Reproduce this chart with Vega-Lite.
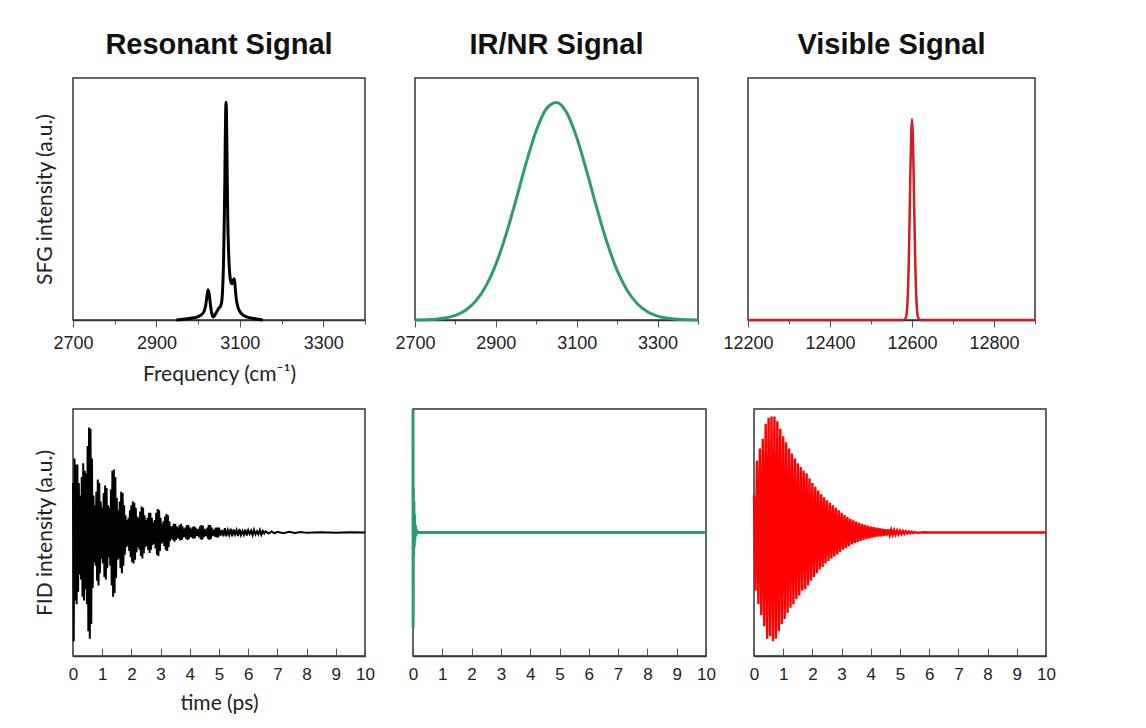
{
  "$schema": "https://vega.github.io/schema/vega-lite/v6.json",
  "background": "white",
  "padding": {"left": 33, "top": 30, "right": 5, "bottom": 5},
  "config": {
    "view": {"stroke": "#333", "strokeWidth": 1.5},
    "axis": {"labelFont": "Liberation Sans", "labelFontSize": 18, "labelColor": "#222", "titleFont": "Lato", "titleFontSize": 21, "titleFontWeight": "normal", "titleColor": "#222", "grid": false, "domainColor": "#333", "domainWidth": 1.5, "tickColor": "#555", "labelFlush": false, "labelOverlap": false},
    "title": {"font": "Liberation Sans", "fontSize": 29, "fontWeight": "bold", "color": "#111", "anchor": "middle", "offset": 18}
  },
  "datasets": {
    "res": [
      {"f":2948,"v":0},{"f":2960,"v":0.002},{"f":2975,"v":0.005},{"f":2990,"v":0.009},{"f":3000,"v":0.014},{"f":3008,"v":0.022},{"f":3014,"v":0.035},{"f":3018,"v":0.06},{"f":3021,"v":0.095},{"f":3024,"v":0.125},{"f":3027,"v":0.1},{"f":3030,"v":0.055},{"f":3033,"v":0.025},{"f":3036,"v":0.012},{"f":3040,"v":0.02},{"f":3045,"v":0.035},{"f":3050,"v":0.05},{"f":3053,"v":0.055},{"f":3056,"v":0.07},{"f":3059,"v":0.14},{"f":3061,"v":0.25},{"f":3062,"v":0.35},{"f":3063,"v":0.45},{"f":3064,"v":0.58},{"f":3065,"v":0.74},{"f":3066,"v":0.86},{"f":3067,"v":0.9},{"f":3068,"v":0.84},{"f":3069,"v":0.7},{"f":3070,"v":0.55},{"f":3071,"v":0.42},{"f":3073,"v":0.28},{"f":3075,"v":0.21},{"f":3078,"v":0.16},{"f":3081,"v":0.15},{"f":3084,"v":0.165},{"f":3087,"v":0.17},{"f":3089,"v":0.13},{"f":3092,"v":0.08},{"f":3096,"v":0.05},{"f":3100,"v":0.035},{"f":3108,"v":0.02},{"f":3118,"v":0.012},{"f":3130,"v":0.007},{"f":3142,"v":0.003},{"f":3155,"v":0}
    ],
    "nr": [
      {"f":2700,"v":0.0004},{"f":2725,"v":0.0013},{"f":2750,"v":0.0034},{"f":2775,"v":0.0084},{"f":2800,"v":0.019},{"f":2825,"v":0.04},{"f":2850,"v":0.078},{"f":2875,"v":0.139},{"f":2900,"v":0.23},{"f":2925,"v":0.352},{"f":2950,"v":0.497},{"f":2975,"v":0.649},{"f":3000,"v":0.783},{"f":3025,"v":0.873},{"f":3050,"v":0.899},{"f":3075,"v":0.857},{"f":3100,"v":0.754},{"f":3125,"v":0.613},{"f":3150,"v":0.461},{"f":3175,"v":0.32},{"f":3200,"v":0.205},{"f":3225,"v":0.122},{"f":3250,"v":0.067},{"f":3275,"v":0.034},{"f":3300,"v":0.016},{"f":3325,"v":0.0069},{"f":3350,"v":0.0027},{"f":3375,"v":0.001},{"f":3400,"v":0.0003}
    ],
    "vis": [
      {"f":12200,"v":0},{"f":12400,"v":0},{"f":12580,"v":0},{"f":12585,"v":0.009},{"f":12588,"v":0.047},{"f":12590,"v":0.112},{"f":12592,"v":0.231},{"f":12594,"v":0.404},{"f":12596,"v":0.603},{"f":12598,"v":0.766},{"f":12600,"v":0.83},{"f":12602,"v":0.766},{"f":12604,"v":0.603},{"f":12606,"v":0.404},{"f":12608,"v":0.231},{"f":12610,"v":0.112},{"f":12612,"v":0.047},{"f":12615,"v":0.009},{"f":12620,"v":0},{"f":12700,"v":0},{"f":12900,"v":0}
    ],
    "fres": [
      {"t":0,"v":0.4},{"t":0.025,"v":-0.88},{"t":0.05,"v":0.6},{"t":0.075,"v":-0.55},{"t":0.1,"v":0.55},{"t":0.125,"v":-0.58},{"t":0.15,"v":0.55},{"t":0.175,"v":-0.48},{"t":0.2,"v":0.4},{"t":0.225,"v":-0.34},
      {"t":0.25,"v":0.3},{"t":0.275,"v":-0.38},{"t":0.3,"v":0.45},{"t":0.325,"v":-0.52},{"t":0.35,"v":0.56},{"t":0.375,"v":-0.55},{"t":0.4,"v":0.5},{"t":0.425,"v":-0.46},{"t":0.45,"v":0.48},{"t":0.475,"v":-0.58},
      {"t":0.5,"v":0.7},{"t":0.525,"v":-0.8},{"t":0.55,"v":0.85},{"t":0.575,"v":-0.86},{"t":0.6,"v":0.84},{"t":0.625,"v":-0.74},{"t":0.65,"v":0.6},{"t":0.675,"v":-0.45},{"t":0.7,"v":0.3},{"t":0.725,"v":-0.24},
      {"t":0.75,"v":0.22},{"t":0.775,"v":-0.27},{"t":0.8,"v":0.33},{"t":0.825,"v":-0.39},{"t":0.85,"v":0.43},{"t":0.875,"v":-0.43},{"t":0.9,"v":0.4},{"t":0.925,"v":-0.33},{"t":0.95,"v":0.25},{"t":0.975,"v":-0.21},
      {"t":1,"v":0.2},{"t":1.025,"v":-0.25},{"t":1.05,"v":0.32},{"t":1.075,"v":-0.36},{"t":1.1,"v":0.38},{"t":1.125,"v":-0.38},{"t":1.15,"v":0.36},{"t":1.175,"v":-0.29},{"t":1.2,"v":0.22},{"t":1.225,"v":-0.2},
      {"t":1.25,"v":0.2},{"t":1.275,"v":-0.27},{"t":1.3,"v":0.35},{"t":1.325,"v":-0.43},{"t":1.35,"v":0.5},{"t":1.375,"v":-0.52},{"t":1.4,"v":0.51},{"t":1.425,"v":-0.49},{"t":1.45,"v":0.45},{"t":1.475,"v":-0.37},
      {"t":1.5,"v":0.28},{"t":1.525,"v":-0.22},{"t":1.55,"v":0.18},{"t":1.575,"v":-0.21},{"t":1.6,"v":0.25},{"t":1.625,"v":-0.29},{"t":1.65,"v":0.33},{"t":1.675,"v":-0.33},{"t":1.7,"v":0.32},{"t":1.725,"v":-0.27},
      {"t":1.75,"v":0.22},{"t":1.775,"v":-0.18},{"t":1.8,"v":0.14},{"t":1.825,"v":-0.12},{"t":1.85,"v":0.1},{"t":1.875,"v":-0.11},{"t":1.9,"v":0.12},{"t":1.925,"v":-0.15},{"t":1.95,"v":0.18},{"t":1.975,"v":-0.2},
      {"t":2,"v":0.22},{"t":2.025,"v":-0.24},{"t":2.05,"v":0.25},{"t":2.075,"v":-0.25},{"t":2.1,"v":0.24},{"t":2.125,"v":-0.22},{"t":2.15,"v":0.2},{"t":2.175,"v":-0.16},{"t":2.2,"v":0.13},{"t":2.225,"v":-0.12},
      {"t":2.25,"v":0.12},{"t":2.275,"v":-0.14},{"t":2.3,"v":0.17},{"t":2.325,"v":-0.19},{"t":2.35,"v":0.21},{"t":2.375,"v":-0.21},{"t":2.4,"v":0.2},{"t":2.425,"v":-0.17},{"t":2.45,"v":0.14},{"t":2.475,"v":-0.12},
      {"t":2.5,"v":0.1},{"t":2.525,"v":-0.11},{"t":2.55,"v":0.12},{"t":2.575,"v":-0.14},{"t":2.6,"v":0.16},{"t":2.625,"v":-0.165},{"t":2.65,"v":0.16},{"t":2.675,"v":-0.14},{"t":2.7,"v":0.12},{"t":2.725,"v":-0.1},
      {"t":2.75,"v":0.08},{"t":2.775,"v":-0.09},{"t":2.8,"v":0.1},{"t":2.825,"v":-0.13},{"t":2.85,"v":0.16},{"t":2.875,"v":-0.18},{"t":2.9,"v":0.19},{"t":2.925,"v":-0.19},{"t":2.95,"v":0.18},{"t":2.975,"v":-0.15},
      {"t":3,"v":0.12},{"t":3.025,"v":-0.09},{"t":3.05,"v":0.07},{"t":3.075,"v":-0.08},{"t":3.1,"v":0.09},{"t":3.125,"v":-0.11},{"t":3.15,"v":0.13},{"t":3.175,"v":-0.14},{"t":3.2,"v":0.15},{"t":3.225,"v":-0.15},
      {"t":3.25,"v":0.14},{"t":3.275,"v":-0.12},{"t":3.3,"v":0.09},{"t":3.325,"v":-0.07},{"t":3.35,"v":0.05},{"t":3.375,"v":-0.05},{"t":3.4,"v":0.05},{"t":3.425,"v":-0.06},{"t":3.45,"v":0.07},{"t":3.475,"v":-0.075},
      {"t":3.5,"v":0.07},{"t":3.525,"v":-0.06},{"t":3.55,"v":0.05},{"t":3.575,"v":-0.045},{"t":3.6,"v":0.04},{"t":3.625,"v":-0.05},{"t":3.65,"v":0.06},{"t":3.675,"v":-0.065},{"t":3.7,"v":0.07},{"t":3.725,"v":-0.06},
      {"t":3.75,"v":0.05},{"t":3.775,"v":-0.04},{"t":3.8,"v":0.03},{"t":3.825,"v":-0.035},{"t":3.85,"v":0.04},{"t":3.875,"v":-0.05},{"t":3.9,"v":0.06},{"t":3.925,"v":-0.06},{"t":3.95,"v":0.06},{"t":3.975,"v":-0.05},
      {"t":4,"v":0.04},{"t":4.025,"v":-0.035},{"t":4.05,"v":0.03},{"t":4.075,"v":-0.04},{"t":4.1,"v":0.045},{"t":4.125,"v":-0.05},{"t":4.15,"v":0.05},{"t":4.175,"v":-0.045},{"t":4.2,"v":0.04},{"t":4.225,"v":-0.03},
      {"t":4.25,"v":0.025},{"t":4.275,"v":-0.028},{"t":4.3,"v":0.03},{"t":4.325,"v":-0.04},{"t":4.35,"v":0.05},{"t":4.375,"v":-0.055},{"t":4.4,"v":0.06},{"t":4.425,"v":-0.058},{"t":4.45,"v":0.055},{"t":4.475,"v":-0.04},
      {"t":4.5,"v":0.03},{"t":4.525,"v":-0.027},{"t":4.55,"v":0.025},{"t":4.575,"v":-0.032},{"t":4.6,"v":0.04},{"t":4.625,"v":-0.05},{"t":4.65,"v":0.06},{"t":4.675,"v":-0.06},{"t":4.7,"v":0.06},{"t":4.725,"v":-0.05},
      {"t":4.75,"v":0.04},{"t":4.775,"v":-0.03},{"t":4.8,"v":0.02},{"t":4.825,"v":-0.025},{"t":4.85,"v":0.03},{"t":4.875,"v":-0.035},{"t":4.9,"v":0.04},{"t":4.925,"v":-0.04},{"t":4.95,"v":0.04},{"t":4.975,"v":-0.04},
      {"t":5,"v":0.04},{"t":5.05,"v":-0.025},{"t":5.1,"v":0.02},{"t":5.15,"v":-0.03},{"t":5.2,"v":0.035},{"t":5.25,"v":-0.03},{"t":5.3,"v":0.02},{"t":5.35,"v":-0.02},{"t":5.4,"v":0.03},{"t":5.45,"v":-0.03},{"t":5.5,"v":0.025},{"t":5.55,"v":-0.015},{"t":5.6,"v":0.02},{"t":5.65,"v":-0.028},{"t":5.7,"v":0.028},{"t":5.75,"v":-0.02},{"t":5.8,"v":0.013},{"t":5.85,"v":-0.018},{"t":5.9,"v":0.025},{"t":5.95,"v":-0.025},
      {"t":6,"v":0.018},{"t":6.05,"v":-0.012},{"t":6.1,"v":0.015},{"t":6.15,"v":-0.022},{"t":6.2,"v":0.022},{"t":6.25,"v":-0.015},{"t":6.3,"v":0.01},{"t":6.35,"v":-0.015},{"t":6.4,"v":0.02},{"t":6.45,"v":-0.018},{"t":6.5,"v":0.012},{"t":6.55,"v":-0.008},{"t":6.6,"v":0.01},{"t":6.7,"v":-0.008},{"t":6.8,"v":0.008},{"t":6.9,"v":-0.006},{"t":7,"v":0.006},{"t":7.2,"v":-0.005},{"t":7.4,"v":0.005},{"t":7.6,"v":-0.004},{"t":7.8,"v":0.004},{"t":8,"v":-0.003},{"t":8.5,"v":0.003},{"t":9,"v":-0.002},{"t":9.5,"v":0.002},{"t":10,"v":0}
    ],
    "fnr": [
      {"t":0,"v":0.99},{"t":0.005,"v":-0.77},{"t":0.012,"v":0.36},{"t":0.02,"v":-0.2},{"t":0.03,"v":0.25},{"t":0.04,"v":-0.12},{"t":0.05,"v":0.15},{"t":0.06,"v":-0.08},{"t":0.08,"v":0.06},{"t":0.1,"v":-0.03},{"t":0.12,"v":0.02},{"t":0.15,"v":0},{"t":10,"v":0}
    ],
    "fvis": [
      {"t":0,"v":0.3},{"t":0.05,"v":-0.47},{"t":0.1,"v":0.58},{"t":0.15,"v":-0.58},{"t":0.2,"v":0.68},{"t":0.25,"v":-0.67},{"t":0.3,"v":0.76},{"t":0.35,"v":-0.76},{"t":0.4,"v":0.88},{"t":0.45,"v":-0.86},{"t":0.5,"v":0.93},{"t":0.55,"v":-0.84},{"t":0.6,"v":0.94},{"t":0.65,"v":-0.88},{"t":0.7,"v":0.94},{"t":0.75,"v":-0.86},{"t":0.8,"v":0.9},{"t":0.85,"v":-0.8},{"t":0.9,"v":0.84},{"t":0.95,"v":-0.74},
      {"t":1,"v":0.78},{"t":1.05,"v":-0.7},{"t":1.1,"v":0.73},{"t":1.15,"v":-0.65},{"t":1.2,"v":0.68},{"t":1.25,"v":-0.61},{"t":1.3,"v":0.64},{"t":1.35,"v":-0.58},{"t":1.4,"v":0.6},{"t":1.45,"v":-0.54},{"t":1.5,"v":0.56},{"t":1.55,"v":-0.51},{"t":1.6,"v":0.53},{"t":1.65,"v":-0.47},{"t":1.7,"v":0.5},{"t":1.75,"v":-0.46},{"t":1.8,"v":0.48},{"t":1.85,"v":-0.43},{"t":1.9,"v":0.44},{"t":1.95,"v":-0.39},
      {"t":2,"v":0.4},{"t":2.05,"v":-0.36},{"t":2.1,"v":0.37},{"t":2.15,"v":-0.33},{"t":2.2,"v":0.34},{"t":2.25,"v":-0.3},{"t":2.3,"v":0.31},{"t":2.35,"v":-0.28},{"t":2.4,"v":0.285},{"t":2.45,"v":-0.25},{"t":2.5,"v":0.26},{"t":2.55,"v":-0.23},{"t":2.6,"v":0.24},{"t":2.65,"v":-0.21},{"t":2.7,"v":0.22},{"t":2.75,"v":-0.195},{"t":2.8,"v":0.2},{"t":2.85,"v":-0.177},{"t":2.9,"v":0.18},{"t":2.95,"v":-0.158},
      {"t":3,"v":0.16},{"t":3.05,"v":-0.14},{"t":3.1,"v":0.142},{"t":3.15,"v":-0.125},{"t":3.2,"v":0.126},{"t":3.25,"v":-0.11},{"t":3.3,"v":0.111},{"t":3.35,"v":-0.097},{"t":3.4,"v":0.098},{"t":3.45,"v":-0.086},{"t":3.5,"v":0.088},{"t":3.55,"v":-0.077},{"t":3.6,"v":0.078},{"t":3.65,"v":-0.068},{"t":3.7,"v":0.069},{"t":3.75,"v":-0.06},{"t":3.8,"v":0.061},{"t":3.85,"v":-0.053},{"t":3.9,"v":0.054},{"t":3.95,"v":-0.047},
      {"t":4,"v":0.048},{"t":4.05,"v":-0.042},{"t":4.1,"v":0.043},{"t":4.15,"v":-0.037},{"t":4.2,"v":0.038},{"t":4.25,"v":-0.033},{"t":4.3,"v":0.034},{"t":4.35,"v":-0.03},{"t":4.4,"v":0.03},{"t":4.45,"v":-0.027},{"t":4.5,"v":0.027},{"t":4.55,"v":-0.024},{"t":4.6,"v":0.025},{"t":4.65,"v":-0.021},{"t":4.7,"v":0.022},{"t":4.75,"v":-0.019},{"t":4.8,"v":0.019},{"t":4.85,"v":-0.017},{"t":4.9,"v":0.016},{"t":4.95,"v":-0.014},
      {"t":5,"v":0.014},{"t":5.05,"v":-0.012},{"t":5.1,"v":0.012},{"t":5.15,"v":-0.01},{"t":5.2,"v":0.01},{"t":5.25,"v":-0.008},{"t":5.3,"v":0.008},{"t":5.35,"v":-0.006},{"t":5.4,"v":0.006},{"t":5.45,"v":-0.005},{"t":5.5,"v":0.004},{"t":5.6,"v":-0.003},{"t":5.8,"v":0.002},{"t":6,"v":0},{"t":10,"v":0}
    ]
  },
  "spacing": 18,
  "vconcat": [
    {
      "spacing": 50,
      "bounds": "flush",
      "hconcat": [
        {
          "width": 292, "height": 242,
          "title": "Resonant Signal",
          "data": {"name": "res"},
          "mark": {"type": "line", "color": "#000000", "strokeWidth": 3, "interpolate": "monotone"},
          "encoding": {
            "x": {"field": "f", "type": "quantitative", "scale": {"domain": [2700, 3400], "nice": false},
              "axis": {"values": [2700, 2800, 2900, 3000, 3100, 3200, 3300, 3400], "format": "d", "labelExpr": "datum.value % 200 === 100 ? datum.label : ''",
                "tickSize": {"condition": {"test": "datum.value % 200 === 100", "value": 7}, "value": 4},
                "title": "Frequency (cm⁻¹)", "labelPadding": 7, "titlePadding": 11}},
            "y": {"field": "v", "type": "quantitative", "scale": {"domain": [0, 1], "nice": false},
              "axis": {"title": "SFG intensity (a.u.)", "labels": false, "ticks": false, "domain": false, "titlePadding": 18}}
          }
        },
        {
          "width": 283, "height": 242,
          "title": "IR/NR Signal",
          "data": {"name": "nr"},
          "mark": {"type": "line", "color": "#2e9b6f", "strokeWidth": 3, "interpolate": "monotone"},
          "encoding": {
            "x": {"field": "f", "type": "quantitative", "scale": {"domain": [2700, 3400], "nice": false},
              "axis": {"values": [2700, 2800, 2900, 3000, 3100, 3200, 3300, 3400], "format": "d", "labelExpr": "datum.value % 200 === 100 ? datum.label : ''",
                "tickSize": {"condition": {"test": "datum.value % 200 === 100", "value": 7}, "value": 4},
                "title": null, "labelPadding": 7}},
            "y": {"field": "v", "type": "quantitative", "scale": {"domain": [0, 1], "nice": false},
              "axis": {"title": null, "labels": false, "ticks": false, "domain": false}}
          }
        },
        {
          "width": 287, "height": 242,
          "title": "Visible Signal",
          "data": {"name": "vis"},
          "mark": {"type": "line", "color": "#cc1f26", "strokeWidth": 2.5, "interpolate": "monotone"},
          "encoding": {
            "x": {"field": "f", "type": "quantitative", "scale": {"domain": [12200, 12900], "nice": false},
              "axis": {"values": [12200, 12300, 12400, 12500, 12600, 12700, 12800, 12900], "format": "d", "labelExpr": "datum.value % 200 === 0 ? datum.label : ''",
                "tickSize": {"condition": {"test": "datum.value % 200 === 0", "value": 7}, "value": 4},
                "title": null, "labelPadding": 7}},
            "y": {"field": "v", "type": "quantitative", "scale": {"domain": [0, 1], "nice": false},
              "axis": {"title": null, "labels": false, "ticks": false, "domain": false}}
          }
        }
      ]
    },
    {
      "spacing": 48,
      "bounds": "flush",
      "hconcat": [
        {
          "width": 292, "height": 247,
          "data": {"name": "fres"},
          "mark": {"type": "line", "color": "#000000", "strokeWidth": 2},
          "encoding": {
            "x": {"field": "t", "type": "quantitative", "scale": {"domain": [0, 10], "nice": false},
              "axis": {"values": [0, 0.5, 1, 1.5, 2, 2.5, 3, 3.5, 4, 4.5, 5, 5.5, 6, 6.5, 7, 7.5, 8, 8.5, 9, 9.5, 10], "format": "d", "labelExpr": "datum.value % 1 === 0 ? datum.label : ''",
                "tickSize": {"condition": {"test": "datum.value % 1 === 0", "value": -8}, "value": -4},
                "labelFontSize": 17, "title": "time (ps)", "labelPadding": 18, "titlePadding": 10}},
            "y": {"field": "v", "type": "quantitative", "scale": {"domain": [-1, 1], "nice": false},
              "axis": {"title": "FID intensity (a.u.)", "labels": false, "ticks": false, "domain": false, "titlePadding": 18}}
          }
        },
        {
          "width": 293, "height": 247,
          "data": {"name": "fnr"},
          "mark": {"type": "line", "color": "#2e9b6f", "strokeWidth": 3},
          "encoding": {
            "x": {"field": "t", "type": "quantitative", "scale": {"domain": [0, 10], "nice": false},
              "axis": {"values": [0, 0.5, 1, 1.5, 2, 2.5, 3, 3.5, 4, 4.5, 5, 5.5, 6, 6.5, 7, 7.5, 8, 8.5, 9, 9.5, 10], "format": "d", "labelExpr": "datum.value % 1 === 0 ? datum.label : ''",
                "tickSize": {"condition": {"test": "datum.value % 1 === 0", "value": -8}, "value": -4},
                "labelFontSize": 17, "title": null, "labelPadding": 18}},
            "y": {"field": "v", "type": "quantitative", "scale": {"domain": [-1, 1], "nice": false},
              "axis": {"title": null, "labels": false, "ticks": false, "domain": false}}
          }
        },
        {
          "width": 292, "height": 247,
          "data": {"name": "fvis"},
          "mark": {"type": "line", "color": "#ff0000", "strokeWidth": 2.4},
          "encoding": {
            "x": {"field": "t", "type": "quantitative", "scale": {"domain": [0, 10], "nice": false},
              "axis": {"values": [0, 0.5, 1, 1.5, 2, 2.5, 3, 3.5, 4, 4.5, 5, 5.5, 6, 6.5, 7, 7.5, 8, 8.5, 9, 9.5, 10], "format": "d", "labelExpr": "datum.value % 1 === 0 ? datum.label : ''",
                "tickSize": {"condition": {"test": "datum.value % 1 === 0", "value": -8}, "value": -4},
                "labelFontSize": 17, "title": null, "labelPadding": 18}},
            "y": {"field": "v", "type": "quantitative", "scale": {"domain": [-1, 1], "nice": false},
              "axis": {"title": null, "labels": false, "ticks": false, "domain": false}}
          }
        }
      ]
    }
  ]
}
